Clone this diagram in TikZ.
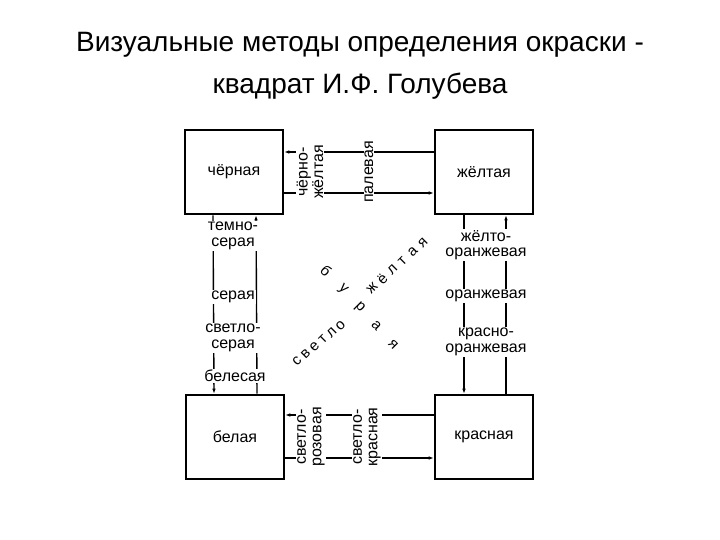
\documentclass[tikz,border=0pt]{standalone}
\usepackage{fontspec}
\setmainfont{Liberation Sans}
\usetikzlibrary{arrows.meta}

\begin{document}
\begin{tikzpicture}[
    x=1pt, y=-1pt,
    colorbox/.style={draw, line width=2.6pt, minimum width=98pt,
                     minimum height=84pt, font=\fontsize{16}{16}\selectfont},
    shade/.style={fill=white, inner sep=1pt, align=center,
                  font=\fontsize{16}{15.5}\selectfont},
    vshade/.style={shade, rotate=90},
    letter/.style={inner sep=0pt, font=\fontsize{15}{15}\selectfont},
    flow/.style={line width=1.4pt, -{Latex[length=5pt,width=3.6pt]}},
  ]
  \useasboundingbox (0,0) rectangle (720,540);

  \node[align=center, font=\fontsize{28}{42}\selectfont] (title) at (360,66)
    {Визуальные методы определения окраски -\\квадрат И.Ф. Голубева};

  % corner colours
  \node[colorbox] (black)  at (234,172) {чёрная};
  \node[colorbox] (yellow) at (484,172) {жёлтая};
  \node[colorbox] (white)  at (235,437) {белая};
  \node[colorbox] (red)    at (484,437) {красная};

  % top side
  \draw[flow] ([yshift=20pt]yellow.west) -- ([yshift=20pt]black.east);
  \draw[flow] ([yshift=-21pt]black.east) -- ([yshift=-21pt]yellow.west);
  % left side
  \draw[flow] ([xshift=-21pt]black.south) -- ([xshift=-21pt]white.north);
  \draw[flow] ([xshift=22pt]white.north) -- ([xshift=22pt]black.south);
  % right side
  \draw[flow] ([xshift=-20pt]yellow.south) -- ([xshift=-20pt]red.north);
  \draw[flow] ([xshift=22pt]red.north) -- ([xshift=22pt]yellow.south);
  % bottom side
  \draw[flow] ([yshift=22pt]red.west) -- ([yshift=22pt]white.east);
  \draw[flow] ([yshift=-21pt]white.east) -- ([yshift=-21pt]red.west);

  % shades on the sides
  \node[vshade] (blackyellow) at (310,172) {чёрно-\\жёлтая};
  \node[vshade] (pale)        at (369,172) {палевая};
  \node[vshade] (lightpink)   at (311,437) {светло-\\розовая};
  \node[vshade] (lightred)    at (367,437) {светло-\\красная};

  \node[shade] (darkgrey)  at (233,236) {темно-\\серая};
  \node[shade] (grey)      at (233,297) {серая};
  \node[shade] (lightgrey) at (233,338) {светло-\\серая};
  \node[shade] (whitish)   at (235,376) {белесая};

  \node[shade] (yelloworange) at (486,245) {жёлто-\\оранжевая};
  \node[shade] (orange)       at (486,296) {оранжевая};
  \node[shade] (redorange)    at (486,342) {красно-\\оранжевая};

  % diagonals
  \foreach \ch [count=\i from 0] in {с,в,е,т,л,о}
    \node[letter, rotate=45] (light\i) at ({297+8.7*\i},{361-7.1*\i}) {\ch};
  \foreach \ch [count=\i from 0] in {ж,ё,л,т,а,я}
    \node[letter, rotate=45] (yel\i) at ({372+10.2*\i},{288-9*\i}) {\ch};
  \foreach \ch [count=\i from 0] in {б,у,р,а,я}
    \node[letter, rotate=-45] (brown\i) at ({326+16.8*\i},{271+18.3*\i}) {\ch};
\end{tikzpicture}
\end{document}
